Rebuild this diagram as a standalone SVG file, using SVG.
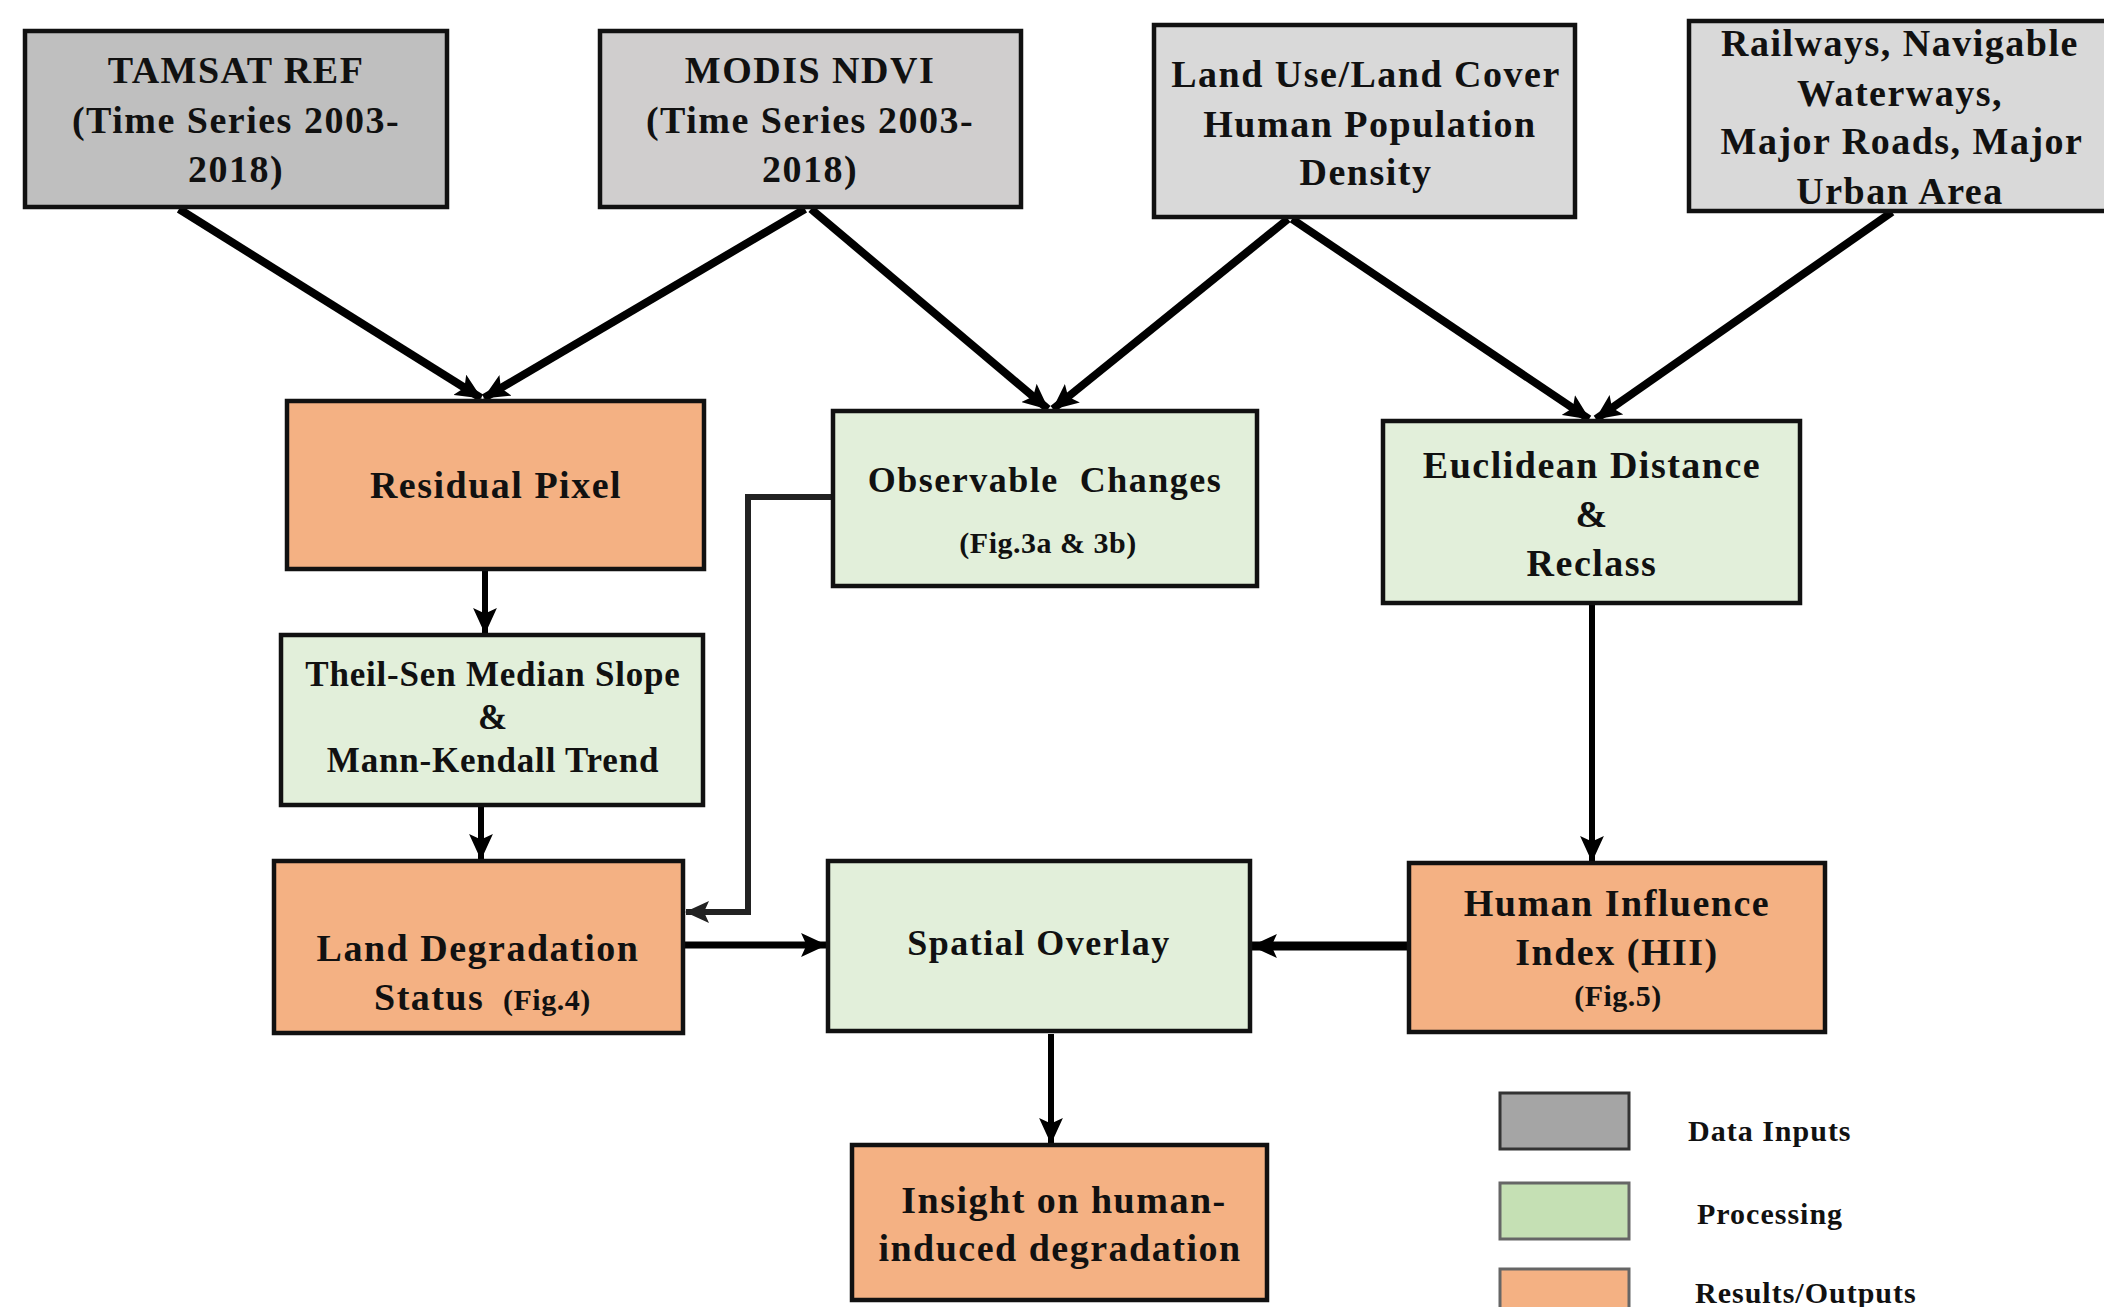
<svg xmlns="http://www.w3.org/2000/svg" width="2104" height="1307" viewBox="0 0 2104 1307">
<defs>
<marker id="ah" viewBox="0 0 24 22" markerWidth="26" markerHeight="24" refX="23" refY="11" orient="auto" markerUnits="userSpaceOnUse">
<path d="M0,0 L24,11 L0,22 L5,11 z" fill="#000"/>
</marker>
<marker id="ah2" viewBox="0 0 24 22" markerWidth="24" markerHeight="22" refX="23" refY="11" orient="auto" markerUnits="userSpaceOnUse">
<path d="M0,0 L24,11 L0,22 L5,11 z" fill="#222"/>
</marker>
<style>
.box{stroke:#111;stroke-width:4.5}
.in1{fill:#BFBFBF}.in2{fill:#D0CECE}.in3{fill:#D9D9D9}
.proc{fill:#E2EFDA}
.out{fill:#F4B183}
text{font-family:"Liberation Serif","Times New Roman",serif;font-weight:bold;fill:#111}
.t{font-size:38px;letter-spacing:1.5px;text-anchor:middle}
.m{font-size:36px;letter-spacing:1.5px;text-anchor:middle}
.s{font-size:35px;letter-spacing:0.8px;text-anchor:middle}
.f{font-size:30px;letter-spacing:0.5px}
.lg{font-size:30px;letter-spacing:1px}
.c{fill:none;stroke:#000;marker-end:url(#ah)}
.d{stroke-width:8}
.v{stroke-width:6}
</style>
</defs>
<rect width="2104" height="1307" fill="#fff"/>
<g id="connectors">
<line class="c d" x1="179" y1="209" x2="481" y2="398"/>
<line class="c d" x1="805" y1="209" x2="484" y2="398"/>
<line class="c d" x1="811" y1="209" x2="1048" y2="409"/>
<line class="c d" x1="1288" y1="219" x2="1053" y2="409"/>
<line class="c d" x1="1292" y1="219" x2="1589" y2="419"/>
<line class="c d" x1="1892" y1="212" x2="1596" y2="419"/>
<line class="c v" x1="485" y1="571" x2="485" y2="633"/>
<line class="c v" x1="481" y1="807" x2="481" y2="859"/>
<polyline fill="none" stroke="#222" stroke-width="6" marker-end="url(#ah2)" points="833,497 748,497 748,912 686,912"/>
<line class="c" stroke-width="7" x1="685" y1="945" x2="826" y2="945"/>
<line class="c" stroke-width="9" x1="1407" y1="946" x2="1252" y2="946"/>
<line class="c v" x1="1592" y1="605" x2="1592" y2="861"/>
<line class="c v" x1="1051" y1="1034" x2="1051" y2="1143"/>
</g>
<g id="tamsat">
<rect class="box in1" x="25" y="31" width="422" height="176"/>
<text class="t" x="236" y="83">TAMSAT REF</text>
<text class="t" x="236" y="133">(Time Series 2003-</text>
<text class="t" x="236" y="182">2018)</text>
</g>
<g id="modis">
<rect class="box in2" x="600" y="31" width="421" height="176"/>
<text class="t" x="810" y="83">MODIS NDVI</text>
<text class="t" x="810" y="133">(Time Series 2003-</text>
<text class="t" x="810" y="182">2018)</text>
</g>
<g id="landuse">
<rect class="box in3" x="1154" y="25" width="421" height="192"/>
<text class="t" x="1366" y="87">Land Use/Land Cover</text>
<text class="t" x="1370" y="137">Human Population</text>
<text class="t" x="1366" y="185">Density</text>
</g>
<g id="railways">
<rect class="box in3" x="1689" y="21" width="420" height="190"/>
<text class="t" x="1900" y="56">Railways, Navigable</text>
<text class="t" x="1900" y="106">Waterways,</text>
<text class="t" x="1902" y="154">Major Roads, Major</text>
<text class="t" x="1900" y="204">Urban Area</text>
</g>
<g id="residual">
<rect class="box out" x="287" y="401" width="417" height="168"/>
<text class="t" x="496" y="498">Residual Pixel</text>
</g>
<g id="observable">
<rect class="box proc" x="833" y="411" width="424" height="175"/>
<text class="m" x="1045" y="492" xml:space="preserve">Observable  Changes</text>
<text class="f" x="1048" y="553" style="text-anchor:middle">(Fig.3a &amp; 3b)</text>
</g>
<g id="euclidean">
<rect class="box proc" x="1383" y="421" width="417" height="182"/>
<text class="t" x="1592" y="478">Euclidean Distance</text>
<text class="t" x="1592" y="527">&amp;</text>
<text class="t" x="1592" y="576">Reclass</text>
</g>
<g id="theilsen">
<rect class="box proc" x="281" y="635" width="422" height="170"/>
<text class="s" x="493" y="686">Theil-Sen Median Slope</text>
<text class="s" x="493" y="729">&amp;</text>
<text class="s" x="493" y="772">Mann-Kendall Trend</text>
</g>
<g id="landdeg">
<rect class="box out" x="274" y="861" width="409" height="172"/>
<text class="t" x="478" y="961">Land Degradation</text>
<text class="t" x="374" y="1010" style="text-anchor:start">Status</text>
<text class="f" x="503" y="1010">(Fig.4)</text>
</g>
<g id="spatial">
<rect class="box proc" x="828" y="861" width="422" height="170"/>
<text class="m" x="1039" y="955">Spatial Overlay</text>
</g>
<g id="hii">
<rect class="box out" x="1409" y="863" width="416" height="169"/>
<text class="t" x="1617" y="916">Human Influence</text>
<text class="t" x="1617" y="965">Index (HII)</text>
<text class="f" x="1618" y="1006" style="text-anchor:middle">(Fig.5)</text>
</g>
<g id="insight">
<rect class="box out" x="852" y="1145" width="415" height="155"/>
<text class="t" x="1064" y="1213">Insight on human-</text>
<text class="t" x="1060" y="1261">induced degradation</text>
</g>
<g id="legend">
<rect x="1500" y="1093" width="129" height="56" fill="#A5A5A5" stroke="#333" stroke-width="3"/>
<rect x="1500" y="1183" width="129" height="56" fill="#C5E0B4" stroke="#666" stroke-width="3"/>
<rect x="1500" y="1269" width="129" height="50" fill="#F4B183" stroke="#666" stroke-width="3"/>
<text class="lg" x="1688" y="1141">Data Inputs</text>
<text class="lg" x="1697" y="1224">Processing</text>
<text class="lg" x="1695" y="1303">Results/Outputs</text>
</g>
</svg>
